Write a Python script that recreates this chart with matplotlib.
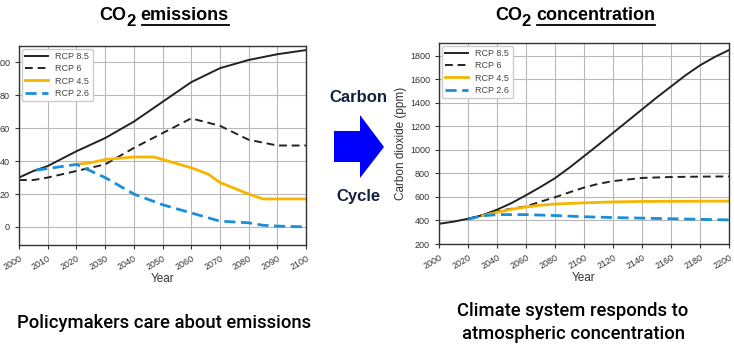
import matplotlib
matplotlib.use("Agg")
import matplotlib.pyplot as plt
from matplotlib.patches import Polygon
from matplotlib.lines import Line2D

plt.rcParams["font.family"] = ["Liberation Sans", "DejaVu Sans"]

# ==========================================
# Data: CO2 emissions (left panel)
# ==========================================

em_years_85 = [2000, 2005, 2010, 2020, 2030, 2040, 2050, 2060, 2070, 2080, 2090, 2100]
em_rcp85 = [30, 34, 37, 46, 54, 64, 76, 88, 96.5, 101.5, 105, 107.5]

em_years_6 = [2000, 2005, 2010, 2020, 2030, 2040, 2050, 2060, 2070, 2080, 2090, 2100]
em_rcp6 = [28.5, 28.5, 30, 34, 38, 48, 57, 66, 61.5, 53, 49.5, 49.5]

em_years_45 = [2020, 2025, 2030, 2040, 2047, 2050, 2060, 2066, 2070, 2080, 2085, 2090, 2100]
em_rcp45 = [38, 39, 41, 42.5, 42.5, 41, 36, 32, 27, 20, 17, 17, 17]

em_years_26 = [2006, 2010, 2020, 2030, 2040, 2050, 2060, 2070, 2080, 2085, 2090, 2100]
em_rcp26 = [34.5, 35.5, 38, 30, 20, 13.5, 8.5, 3.5, 2.5, 1, 0.5, 0]

# ==========================================
# Data: CO2 concentration (right panel)
# ==========================================

co_years_85 = [2000, 2010, 2020, 2030, 2040, 2050, 2060, 2070, 2080, 2090, 2100,
               2110, 2120, 2130, 2140, 2150, 2160, 2170, 2180, 2190, 2200]
co_rcp85 = [372, 390, 415, 445, 492, 548, 615, 685, 760, 850, 947,
            1045, 1145, 1245, 1345, 1445, 1540, 1635, 1720, 1790, 1850]

co_years_6 = [2020, 2030, 2040, 2050, 2060, 2070, 2080, 2090, 2100, 2110, 2120, 2140, 2160, 2180, 2200]
co_rcp6 = [415, 445, 478, 500, 520, 560, 598, 640, 680, 712, 735, 762, 770, 773, 775]

co_years_45 = [2030, 2040, 2050, 2060, 2070, 2080, 2100, 2120, 2140, 2200]
co_rcp45 = [440, 470, 495, 515, 530, 540, 550, 558, 562, 565]

co_years_26 = [2020, 2030, 2040, 2060, 2080, 2100, 2120, 2140, 2160, 2180, 2200]
co_rcp26 = [410, 440, 450, 450, 442, 432, 425, 420, 415, 410, 405]

labels = ["RCP 8.5", "RCP 6", "RCP 4.5", "RCP 2.6"]

BLACK = "#222222"
GOLD = "#f7b500"
BLUE = "#1a8fd8"

W, H = 734, 348


def fig_rect(x0, y0, x1, y1):
    # pixel box (top-left origin) -> figure fraction
    return [x0 / W, 1 - y1 / H, (x1 - x0) / W, (y1 - y0) / H]


def style_axes(ax):
    ax.grid(True, color="#b8b8b8", linewidth=0.8)
    for s in ax.spines.values():
        s.set_color("#333333")
        s.set_linewidth(1.0)
    ax.tick_params(labelsize=6.5, colors="#333333", length=3, width=0.8)
    for lab in ax.get_xticklabels():
        lab.set_rotation(30)
        lab.set_ha("right")
        lab.set_rotation_mode("anchor")
    ax.set_xlabel("Year", fontsize=8.5, color="#333333", labelpad=1)
    ax.legend(loc="upper left", fontsize=6.5, frameon=True, framealpha=1,
              edgecolor="#cccccc", labelcolor="#444444", handlelength=2.5,
              borderaxespad=0.3, labelspacing=0.35)


fig = plt.figure(figsize=(W / 100, H / 100), dpi=100)

# ==========================================
# Emissions panel
# ==========================================

ax1 = fig.add_axes(fig_rect(19, 46, 306, 245))
ax1.plot(em_years_85, em_rcp85, color=BLACK, lw=1.4, label=labels[0])
ax1.plot(em_years_6, em_rcp6, color=BLACK, lw=1.4, ls=(0, (4, 2.5)), label=labels[1])
ax1.plot(em_years_45, em_rcp45, color=GOLD, lw=2.0, label=labels[2])
ax1.plot(em_years_26, em_rcp26, color=BLUE, lw=2.0, ls=(0, (4, 2)), label=labels[3])
ax1.set_xlim(2000, 2100)
ax1.set_ylim(-11, 110)
ax1.set_xticks(range(2000, 2101, 10))
ax1.set_yticks(range(0, 101, 20))
style_axes(ax1)

# ==========================================
# Concentration panel
# ==========================================

ax2 = fig.add_axes(fig_rect(439, 43, 729, 244))
ax2.plot(co_years_85, co_rcp85, color=BLACK, lw=1.4, label=labels[0])
ax2.plot(co_years_6, co_rcp6, color=BLACK, lw=1.4, ls=(0, (4, 2.5)), label=labels[1])
ax2.plot(co_years_45, co_rcp45, color=GOLD, lw=2.0, label=labels[2])
ax2.plot(co_years_26, co_rcp26, color=BLUE, lw=2.0, ls=(0, (4, 2)), label=labels[3])
ax2.set_xlim(2000, 2200)
ax2.set_ylim(200, 1910)
ax2.set_xticks(range(2000, 2201, 20))
ax2.set_yticks(range(200, 1801, 200))
ax2.set_ylabel("Carbon dioxide (ppm)", fontsize=8.5, color="#333333", labelpad=2)
style_axes(ax2)

# ==========================================
# Titles: CO + lowered 2 + underlined word
# ==========================================


def underlined_title(cx, cy, word):
    r = fig.canvas.get_renderer()
    ty = 1 - cy / H
    t1 = fig.text(0, ty, "CO", fontsize=13, fontweight="bold", va="center")
    t2 = fig.text(0, 1 - (cy + 5) / H, "2", fontsize=12, fontweight="bold", va="center")
    t3 = fig.text(0, ty, word, fontsize=13, fontweight="bold", va="center")
    w1 = t1.get_window_extent(r).width
    w2 = t2.get_window_extent(r).width
    w3 = t3.get_window_extent(r).width
    gap = 5
    x0 = cx - (w1 + w2 + gap + w3) / 2
    t1.set_x(x0 / W)
    t2.set_x((x0 + w1) / W)
    xw = x0 + w1 + w2 + gap
    t3.set_x(xw / W)
    uy = 1 - (cy + 8.5) / H
    fig.add_artist(Line2D([(xw + 1) / W, (xw + w3) / W], [uy, uy],
                          transform=fig.transFigure, color="black", lw=1.3))


fig.canvas.draw()
underlined_title(164, 16, "emissions")
underlined_title(575, 16, "concentration")

# ==========================================
# Carbon cycle arrow
# ==========================================

arrow_px = [(334, 131), (360, 131), (360, 115), (384, 147),
            (360, 178), (360, 162), (334, 162)]
fig.add_artist(Polygon([(x / W, 1 - y / H) for x, y in arrow_px], closed=True,
                       transform=fig.transFigure, facecolor="#0000ff", edgecolor="none"))
fig.text(358 / W, 1 - 97 / H, "Carbon", fontsize=12, fontweight="bold",
         color="#14213d", ha="center", va="center")
fig.text(358 / W, 1 - 197 / H, "Cycle", fontsize=12, fontweight="bold",
         color="#14213d", ha="center", va="center")

# ==========================================
# Captions
# ==========================================

cap_font = ["Roboto", "Liberation Sans", "DejaVu Sans"]
fig.text(164 / W, 1 - 323 / H, "Policymakers care about emissions",
         fontsize=13.3, ha="center", va="center", family=cap_font, fontweight="medium")
fig.text(573 / W, 1 - 322.5 / H, "Climate system responds to\natmospheric concentration",
         fontsize=13.3, ha="center", va="center", linespacing=1.3,
         family=cap_font, fontweight="medium")

fig.savefig("out.png", dpi=100)
